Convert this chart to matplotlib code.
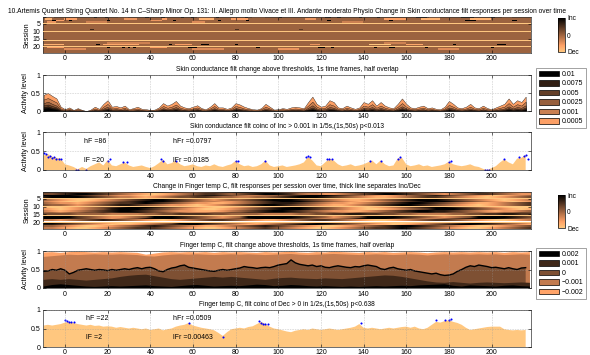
import matplotlib
matplotlib.use("Agg")
import matplotlib.pyplot as plt
import numpy as np
from matplotlib.patches import Patch
from matplotlib.cm import ScalarMappable
from matplotlib.colors import Normalize

plt.rcParams["font.family"] = ["Liberation Sans", "DejaVu Sans"]
plt.rcParams["font.size"] = 5.0
NARROW = ["Liberation Sans Narrow", "Liberation Sans", "DejaVu Sans"]

# ---------------- data ----------------
T_START = -10
N_SESSIONS = 24
MISSING_SESSIONS = [5, 10, 16, 20]
XTICKS = [0, 20, 40, 60, 80, 100, 120, 140, 160, 180, 200]

# skin conductance heatmap: sparse responses (session, t_from, t_to, level)
sc_spots = [
    (1, -10, -8.5, 1), (1, -8, -5, -0.7), (1, 14, 15.5, 1), (1, 19, 20.5, 1), (1, 25, 30, -0.4),
    (1, 38, 39.5, 1), (1, 45.5, 47, 1), (1, 54.5, 56, 1), (1, 59.5, 61, 1), (1, 62, 70, -0.6),
    (1, 71, 72.5, 1), (1, 84.5, 86, 1), (1, 88, 94, -0.5), (1, 100.5, 102, 1), (1, 122, 125, 1),
    (1, 128, 129.5, 1), (1, 138, 139.5, 1), (1, 146.5, 148, 1), (1, 165, 170, 1), (1, 171, 176, -0.7),
    (1, 186, 192, 1), (1, 200, 202, 1), (1, 205, 210, -0.5),
    (2, -9, -6, -0.8), (2, 0, 6, -0.6), (2, 28, 34, -0.5), (2, 46, 48, -0.6), (2, 63, 70, -0.8),
    (2, 78, 86, -0.6), (2, 113, 118, -0.5), (2, 150, 160, -0.6), (2, 167, 176, -0.8), (2, 190, 200, -0.8),
    (3, -6, -4, 1), (3, -4, 0, -0.6), (3, 2, 3.5, 1), (3, 20, 21.5, 1), (3, 40, 46, -0.5),
    (3, 51, 52.5, 1), (3, 72, 73.5, 1), (3, 85, 86.5, 1), (3, 123, 125, 1), (3, 152, 154, 1),
    (3, 188, 193, 1), (3, 210, 212, 1),
    (4, -8, -4, -0.5), (4, 10, 20, -0.3), (4, 60, 66, -0.4), (4, 130, 140, -0.3),
    (9, 12, 14, 0.6), (9, 80, 82, 0.5), (9, 110, 112, 0.4),
    (18, 20, 40, -0.3), (18, 150, 160, -0.3),
    (19, -10, 0, -0.8), (19, 15, 16.5, 1), (19, 18, 35, -0.7), (19, 49, 50.5, 1), (19, 52, 60, -0.6),
    (19, 64, 68, 1), (19, 80, 81.5, 1), (19, 115, 120, -0.5), (19, 143, 153, -1), (19, 160, 168, -0.7),
    (19, 182, 183.5, 1), (19, 203, 207, 1),
    (21, -8, 0, -0.6), (21, 20, 21.5, 1), (21, 27, 28.5, 1), (21, 30, 31, 1), (21, 32, 33.5, 1),
    (21, 40, 48, -0.6), (21, 58, 62, 1), (21, 90, 91.5, 1), (21, 119, 122, 1), (21, 125, 126.5, 1),
    (21, 145, 146.5, 1), (21, 152, 155, 1), (21, 169, 170.5, 1), (21, 200, 201.5, 1),
    (22, 0, 10, -0.4), (22, 60, 75, -0.4), (22, 100, 110, -0.5), (22, 175, 185, -0.4),
]

# skin conductance: fraction of sessions above each threshold (percent, 2 s steps from -10 s)
sc_thresholds = ["0.01", "0.0075", "0.005", "0.0025", "0.001", "0.0005"]
sc_above = {
    "0.0005": [45, 50, 42, 35, 12, 5, 10, 3, 8, 3, 0, 4, 12, 6, 20, 30, 12, 14, 10, 15,
               5, 8, 12, 6, 5, 3, 4, 10, 22, 15, 20, 28, 15, 10, 8, 12, 16, 8, 5, 12,
               22, 10, 10, 6, 10, 22, 18, 12, 8, 5, 4, 8, 20, 12, 4, 5, 8, 6, 10, 12,
               10, 8, 25, 40, 20, 12, 15, 30, 25, 10, 8, 15, 10, 6, 10, 25, 20, 30, 15, 25,
               15, 10, 8, 20, 35, 20, 10, 8, 12, 15, 8, 10, 6, 5, 12, 28, 20, 10, 8, 12,
               20, 10, 8, 15, 8, 5, 10, 15, 20, 35, 20, 30, 25, 40],
    "0.001": [32, 36, 30, 24, 7, 3, 6, 2, 5, 2, 0, 2, 7, 3, 12, 20, 7, 8, 6, 9,
              3, 5, 7, 3, 3, 2, 2, 6, 14, 9, 12, 18, 9, 6, 5, 7, 10, 5, 3, 7,
              14, 6, 6, 3, 6, 14, 11, 7, 5, 3, 2, 5, 12, 7, 2, 3, 5, 3, 6, 7,
              6, 5, 15, 26, 12, 7, 9, 19, 15, 6, 5, 9, 6, 3, 6, 15, 12, 19, 9, 15,
              9, 6, 5, 12, 22, 12, 6, 5, 7, 9, 5, 6, 3, 3, 7, 17, 12, 6, 5, 7,
              12, 6, 5, 9, 5, 3, 6, 9, 12, 22, 12, 19, 15, 26],
    "0.0025": [22, 26, 20, 15, 4, 1, 3, 1, 2, 1, 0, 1, 4, 2, 7, 12, 4, 5, 3, 5,
               1, 2, 4, 2, 1, 1, 1, 3, 8, 5, 7, 11, 5, 3, 2, 4, 6, 2, 1, 4,
               8, 3, 3, 2, 3, 8, 6, 4, 2, 1, 1, 2, 7, 4, 1, 1, 2, 2, 3, 4,
               3, 2, 9, 16, 7, 4, 5, 11, 9, 3, 2, 5, 3, 2, 3, 9, 7, 11, 5, 9,
               5, 3, 2, 7, 13, 7, 3, 2, 4, 5, 2, 3, 2, 1, 4, 10, 7, 3, 2, 4,
               7, 3, 2, 5, 2, 1, 3, 5, 7, 13, 7, 11, 9, 16],
    "0.005": [16, 18, 14, 10, 2, 1, 2, 0, 1, 0, 0, 0, 2, 1, 4, 7, 2, 3, 2, 3,
              1, 1, 2, 1, 1, 0, 0, 2, 5, 3, 4, 7, 3, 2, 1, 2, 4, 1, 1, 2,
              5, 2, 2, 1, 2, 5, 4, 2, 1, 1, 0, 1, 4, 2, 0, 1, 1, 1, 2, 2,
              2, 1, 5, 10, 4, 2, 3, 7, 5, 2, 1, 3, 2, 1, 2, 5, 4, 7, 3, 5,
              3, 2, 1, 4, 8, 4, 2, 1, 2, 3, 1, 2, 1, 1, 2, 6, 4, 2, 1, 2,
              4, 2, 1, 3, 1, 1, 2, 3, 4, 8, 4, 7, 5, 10],
    "0.0075": [11, 13, 9, 7, 1, 0, 1, 0, 1, 0, 0, 0, 1, 0, 2, 4, 1, 1, 1, 1,
               0, 0, 1, 0, 0, 0, 0, 1, 3, 2, 2, 4, 1, 1, 1, 1, 2, 1, 0, 1,
               3, 1, 1, 0, 1, 3, 2, 1, 1, 0, 0, 1, 2, 1, 0, 0, 1, 0, 1, 1,
               1, 1, 3, 6, 2, 1, 1, 4, 3, 1, 1, 1, 1, 0, 1, 3, 2, 4, 1, 3,
               1, 1, 1, 2, 5, 2, 1, 1, 1, 1, 1, 1, 0, 0, 1, 4, 2, 1, 1, 1,
               2, 1, 1, 1, 1, 0, 1, 1, 2, 5, 2, 4, 3, 6],
    "0.01": [7, 9, 6, 4, 0, 0, 0, 0, 0, 0, 0, 0, 0, 0, 1, 2, 0, 0, 0, 0,
             0, 0, 0, 0, 0, 0, 0, 0, 2, 1, 1, 2, 0, 0, 0, 0, 1, 0, 0, 0,
             2, 0, 0, 0, 0, 2, 1, 0, 0, 0, 0, 0, 1, 0, 0, 0, 0, 0, 0, 0,
             0, 0, 2, 4, 1, 0, 0, 2, 2, 0, 0, 0, 0, 0, 0, 2, 1, 2, 0, 1,
             0, 0, 0, 1, 3, 1, 0, 0, 0, 0, 0, 0, 0, 0, 0, 2, 1, 0, 0, 0,
             1, 0, 0, 0, 0, 0, 0, 0, 1, 3, 1, 2, 1, 4],
}

# skin conductance coincidence (percent, 2 s steps)
sc_coinc = [38, 42, 35, 32, 30, 15, 12, 8, 2, 8, 3, 10, 15, 20, 12, 26, 12, 10, 15, 20,
            12, 8, 10, 12, 8, 5, 10, 18, 27, 15, 18, 25, 15, 10, 12, 15, 10, 8, 12, 10,
            15, 10, 8, 12, 15, 24, 15, 10, 12, 8, 10, 15, 25, 12, 8, 10, 12, 8, 10, 12,
            15, 20, 34, 25, 12, 10, 20, 30, 25, 15, 10, 12, 15, 10, 12, 15, 20, 25, 15, 25,
            15, 10, 12, 30, 32, 15, 10, 12, 15, 10, 12, 8, 10, 12, 15, 22, 15, 12, 10, 12,
            15, 10, 8, 3, 0, 5, 10, 20, 28, 20, 15, 30, 32, 40]
sc_sig_t = [-10, -9, -8, -7, -6, -5, -4, -3, -2, 5, 6, 10, 20, 21, 27, 29, 45, 46, 52, 80,
            81, 94, 113, 114, 115, 123, 124, 125, 143, 148, 156, 157, 180, 181, 197, 198, 199,
            206, 213, 215, 216, 217]
sc_sig_v = [0.45, 0.42, 0.35, 0.38, 0.32, 0.35, 0.3, 0.3, 0.3, 0.0, 0.0, 0.0, 0.25, 0.28,
            0.2, 0.2, 0.28, 0.25, 0.25, 0.25, 0.23, 0.25, 0.35, 0.37, 0.33, 0.3, 0.3, 0.3,
            0.25, 0.25, 0.3, 0.35, 0.22, 0.25, 0.0, 0.0, 0.0, 0.3, 0.35, 0.38, 0.4, 0.3]
sc_stats = {"hF": "86", "hFr": "0.0797", "lF": "20", "lFr": "0.0185"}

# finger temperature heatmap, 4 s steps from -10 s, digits 0 (Dec) .. 4 (0) .. 8 (Inc)
ft_rows = {
    1: "7665321012 3456654334 5678876543 3344567776 5432345788 87543234",
    2: "5567887654 3210123456 6545678876 4332234567 8876543234 56654322",
    3: "8888765432 2101234567 7654334456 7888765432 1234567654 32101234",
    4: "7888876543 3212345566 5443344567 8887654321 1234566543 21012345",
    6: "4321001234 5678876543 2344567888 7654321123 4567888765 43210123",
    7: "3210012345 6788876543 3223456788 8765432112 3456788876 54321012",
    8: "4322123456 6787654322 1123456777 6543221234 5678876543 21123456",
    9: "5443234567 7654322101 2345678876 5432112345 6788765432 10123456",
    11: "1001234567 8887654321 0012345678 8765432101 2345678876 54321000",
    12: "2101234578 8876543210 0123456788 8765432100 1234568887 65432101",
    13: "3212345678 8765432211 1234567887 6543221123 4567887765 43212234",
    14: "4434455667 7765544333 4455667776 6554433444 5566776655 44334455",
    15: "5555444433 3344556666 5544443333 4455667766 5544333344 55667766",
    17: "8888654322 3458887654 3234888888 7654234588 8876543234 58888765",
    18: "8887654323 4578887654 3345788887 6543345788 8765433456 78887654",
    19: "3323456765 4321012345 6654321123 4566543210 0123456654 32100123",
    21: "8876543210 0123458887 6543212345 6788765432 1001234567 88765432",
    22: "7765432101 1234567886 5432123456 7887654321 1012345678 87654321",
    23: "4432100123 4567654321 1234567654 3210012345 6788765432 10012345",
    24: "3321001234 5666543210 0123456543 2100123456 6787654321 00123456",
}

# finger temperature: fraction above each threshold (percent)
ft_thresholds = ["0.002", "0.001", "0", "-0.001", "-0.002"]
ft_above_4s = {
    "-0.002": [96, 97, 95, 97, 98, 97, 96, 97, 96, 97, 96, 95, 90, 93, 96, 97, 96, 97, 96, 97,
               95, 97, 96, 97, 96, 95, 97, 96, 97, 98, 96, 95, 97, 96, 98, 97, 96, 95, 97, 96,
               97, 95, 96, 97, 96, 94, 96, 97, 96, 97, 96, 97, 96, 97, 95, 97, 96, 97],
    "-0.001": [84, 86, 88, 90, 89, 90, 91, 90, 90, 91, 90, 89, 86, 85, 88, 90, 91, 90, 91, 90,
               89, 90, 91, 90, 91, 90, 89, 90, 91, 92, 90, 89, 90, 91, 92, 91, 90, 89, 90, 91,
               90, 89, 90, 91, 90, 88, 90, 91, 90, 91, 90, 91, 90, 91, 89, 90, 91, 90],
    "0.001": [22, 24, 22, 24, 22, 20, 22, 24, 26, 30, 33, 35, 36, 32, 28, 24, 22, 24, 26, 28,
              30, 28, 30, 28, 26, 24, 22, 25, 27, 28, 26, 25, 24, 26, 25, 24, 26, 28, 30, 32,
              34, 33, 30, 26, 22, 18, 15, 14, 16, 14, 12, 14, 15, 14, 13, 14, 15, 14],
    "0.002": [4, 8, 10, 8, 6, 4, 3, 4, 5, 4, 5, 6, 7, 5, 4, 3, 5, 7, 8, 6,
              4, 5, 6, 5, 7, 9, 8, 5, 6, 8, 7, 5, 4, 5, 4, 3, 4, 3, 4, 5,
              4, 5, 6, 5, 7, 8, 9, 10, 6, 4, 7, 6, 5, 4, 6, 7, 5, 4],
}
# the 0 level (thick line) at 2 s steps
ft_above_zero = [45, 46, 50, 48, 52, 48, 38, 42, 48, 50, 52, 50, 48, 50, 49, 47, 50, 48, 50, 52,
                 50, 53, 55, 52, 55, 56, 52, 46, 44, 50, 54, 56, 60, 62, 56, 54, 52, 50, 48, 46,
                 45, 48, 50, 48, 50, 52, 54, 58, 56, 55, 53, 55, 56, 55, 58, 62, 64, 66, 76, 68,
                 64, 62, 60, 62, 58, 60, 56, 55, 58, 60, 58, 56, 55, 58, 57, 60, 62, 60, 58, 52,
                 50, 54, 56, 52, 50, 48, 50, 46, 44, 42, 40, 38, 40, 36, 34, 35, 38, 45, 50, 56,
                 60, 58, 62, 60, 58, 55, 56, 54, 52, 55, 52, 50, 54, 55]

# finger temperature coincidence (percent, 2 s steps)
ft_coinc = [58, 60, 58, 60, 62, 66, 68, 65, 62, 60, 58, 60, 57, 58, 55, 56, 55, 52, 54, 52,
            50, 52, 50, 48, 50, 46, 48, 50, 45, 48, 50, 55, 58, 60, 65, 58, 55, 52, 50, 48,
            45, 38, 30, 40, 48, 50, 52, 50, 54, 56, 62, 68, 62, 55, 50, 48, 45, 42, 40, 44,
            46, 48, 46, 50, 48, 46, 48, 50, 48, 46, 48, 50, 52, 55, 62, 52, 50, 52, 50, 48,
            50, 52, 50, 52, 54, 55, 52, 55, 50, 48, 52, 60, 68, 66, 70, 72, 68, 65, 60, 52,
            46, 48, 50, 52, 54, 55, 55, 55, 48, 46, 45, 46, 45, 46]
ft_sig_t = [0, 1, 2, 3, 4, 58, 74, 91, 92, 93, 94, 95, 139, 174, 178, 180, 181]
ft_sig_v = [0.72, 0.7, 0.68, 0.68, 0.68, 0.65, 0.28, 0.7, 0.66, 0.63, 0.63, 0.63, 0.65,
            0.72, 0.72, 0.72, 0.75]
ft_stats = {"hF": "22", "hFr": "0.0509", "lF": "2", "lFr": "0.00463"}

# ---------------- layout ----------------
W_PX, H_PX = 590, 355
XMIN, XMAX = -10.3, 218.5
TITLE_SIZE = 4.8
cmap = plt.get_cmap("copper")
DEC_COLOR = cmap(1.0)


def rect(top, bottom, left=43, right=531):
    return [left / W_PX, 1 - bottom / H_PX, (right - left) / W_PX, (bottom - top) / H_PX]


def style(ax, grid=True):
    ax.set_xlim(XMIN, XMAX)
    ax.set_xticks(XTICKS)
    ax.tick_params(direction="in", length=2.2, width=0.4, top=True, right=True, pad=1.8)
    for s in ax.spines.values():
        s.set_linewidth(0.5)
        s.set_color("#333333")
    if grid:
        ax.grid(True, ls=(0, (1, 2)), lw=0.4, color="#9a9a9a")
        ax.set_axisbelow(False)


def level_axes(ax, title, ylabel=True):
    style(ax)
    ax.set_ylim(0, 1)
    ax.set_yticks([0, 0.5, 1])
    ax.set_yticklabels(["0", "0.5", "1"])
    if ylabel:
        ax.set_ylabel("Activity level", labelpad=1.5, family=NARROW, fontsize=5.2)
    ax.set_title(title, pad=3, family=NARROW, fontsize=TITLE_SIZE)


def heat_axes(ax, title):
    style(ax, grid=False)
    ax.set_ylim(N_SESSIONS + 0.5, 0.5)
    ax.set_yticks([5, 10, 15, 20])
    ax.set_ylabel("Session", labelpad=1.5, family=NARROW, fontsize=5.2)
    ax.set_title(title, pad=3, family=NARROW, fontsize=TITLE_SIZE)
    for s in MISSING_SESSIONS:
        ax.axhspan(s - 0.35, s + 0.35, color=DEC_COLOR, lw=0, zorder=3)


def colorbar(top, bottom):
    cax = fig.add_axes(rect(top, bottom, 558, 565))
    cb = fig.colorbar(ScalarMappable(Normalize(-1, 1), cmap.reversed()), cax=cax)
    cb.set_ticks([-1, 0, 1])
    cb.set_ticklabels(["Dec", "0", "Inc"])
    cb.outline.set_linewidth(0.5)
    cax.tick_params(length=0, pad=1.5, labelsize=4.8)


def level_legend(labels, shades, top):
    handles = [Patch(facecolor=cmap(s), edgecolor="k", lw=0.5, label=l)
               for l, s in zip(labels, shades)]
    leg = fig.legend(handles=handles, loc="upper left",
                     bbox_to_anchor=(536 / W_PX, 1 - top / H_PX),
                     frameon=True, fancybox=False, handlelength=2.9, handleheight=0.85,
                     labelspacing=0.33, handletextpad=0.35, borderpad=0.4,
                     borderaxespad=0, fontsize=5.0)
    leg.get_frame().set_linewidth(0.6)
    leg.get_frame().set_edgecolor("#777777")


fig = plt.figure(figsize=(W_PX / 100, H_PX / 100), dpi=100)

# panel 1: skin conductance heatmap
ax1 = fig.add_axes(rect(17, 53))
step = 0.5
tgrid = np.arange(T_START, XMAX + step, step)
sc_img = np.zeros((N_SESSIONS, len(tgrid)))
for row, a, b, lev in sc_spots:
    sc_img[row - 1, (tgrid >= a) & (tgrid < b)] = lev
ax1.imshow(sc_img, cmap=cmap.reversed(), vmin=-1, vmax=1, aspect="auto",
           interpolation="nearest",
           extent=[tgrid[0] - step / 2, tgrid[-1] + step / 2, N_SESSIONS + 0.5, 0.5])
heat_axes(ax1, "10.Artemis Quartet String Quartet No. 14 in C\u2013Sharp Minor Op. 131: "
               "II. Allegro molto Vivace et III. Andante moderato Physio Change in Skin "
               "conductance filt responses per session over time")
colorbar(18, 52)

# panel 2: skin conductance thresholds
ax2 = fig.add_axes(rect(75, 111))
sc_shades = [0.0, 0.16, 0.32, 0.48, 0.64, 0.8]
for lab, sh in list(zip(sc_thresholds, sc_shades))[::-1]:
    vals = np.array(sc_above[lab]) / 100
    t = T_START + 2 * np.arange(len(vals))
    ax2.fill_between(t, 0, vals, facecolor=cmap(sh), edgecolor="k", lw=0.25)
level_axes(ax2, "Skin conductance filt change above thresholds, 1s time frames, half overlap")
level_legend(sc_thresholds, sc_shades, 68)

# panel 3: skin conductance coincidence
ax3 = fig.add_axes(rect(132, 170))
vals = np.array(sc_coinc) / 100
t = T_START + 2 * np.arange(len(vals))
ax3.fill_between(t, 0, vals, facecolor=DEC_COLOR, lw=0)
ax3.plot(sc_sig_t, sc_sig_v, ".", color="blue", ms=3, mew=0)
level_axes(ax3, "Skin conductance filt coinc of Inc > 0.001 in 1/5s,(1s,50s) p<0.013")
ax3.text(9, 0.75, "hF =" + sc_stats["hF"], va="center")
ax3.text(50.5, 0.75, "hFr =" + sc_stats["hFr"], va="center")
ax3.text(9, 0.25, "lF =" + sc_stats["lF"], va="center")
ax3.text(50.5, 0.25, "lFr =" + sc_stats["lFr"], va="center")

# panel 4: finger temperature heatmap
ax4 = fig.add_axes(rect(192, 229))
for row, s in ft_rows.items():
    digits = s.replace(" ", "")
    vals = (np.array([int(c) for c in digits]) - 4) / 4
    n = len(vals)
    ax4.imshow(vals[None, :], cmap=cmap.reversed(), vmin=-1, vmax=1, aspect="auto",
               interpolation="bilinear",
               extent=[T_START - 2, T_START + 4 * n - 2, row + 0.5, row - 0.5])
heat_axes(ax4, "Change in Finger temp C, filt responses per session over time, "
               "thick line separates Inc/Dec")
colorbar(195, 228)

# panel 5: finger temperature thresholds
ax5 = fig.add_axes(rect(251, 288))
ft_shades = [0.0, 0.2, 0.4, 0.62, 0.82]
for lab, sh in list(zip(ft_thresholds, ft_shades))[::-1]:
    if lab == "0":
        vals = np.array(ft_above_zero) / 100
        t = T_START + 2 * np.arange(len(vals))
        ax5.fill_between(t, 0, vals, facecolor=cmap(sh), lw=0)
        ax5.plot(t, vals, color="k", lw=1.0)
    else:
        vals = np.array(ft_above_4s[lab]) / 100
        t = T_START + 4 * np.arange(len(vals))
        ax5.fill_between(t, 0, vals, facecolor=cmap(sh), lw=0)
level_axes(ax5, "Finger temp C, filt change above thresholds, 1s time frames, half overlap")
level_legend(["0.002", "0.001", "0", "\u22120.001", "\u22120.002"], ft_shades, 248)

# panel 6: finger temperature coincidence
ax6 = fig.add_axes(rect(310, 347))
vals = np.array(ft_coinc) / 100
t = T_START + 2 * np.arange(len(vals))
ax6.fill_between(t, 0, vals, facecolor=DEC_COLOR, lw=0)
ax6.plot(ft_sig_t, ft_sig_v, ".", color="blue", ms=3, mew=0)
level_axes(ax6, "Finger temp C, filt coinc of Dec > 0 in 1/2s,(1s,50s) p<0.638", ylabel=False)
ax6.text(10, 0.76, "hF =" + ft_stats["hF"], va="center")
ax6.text(50.5, 0.76, "hFr =" + ft_stats["hFr"], va="center")
ax6.text(10, 0.25, "lF =" + ft_stats["lF"], va="center")
ax6.text(50.5, 0.25, "lFr =" + ft_stats["lFr"], va="center")

fig.savefig("out.png", dpi=100)
